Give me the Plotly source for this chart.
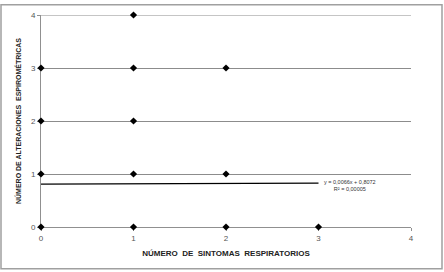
import plotly.graph_objects as go
import numpy as np

# data
sintomas = [0, 0, 0, 0, 1, 1, 1, 1, 1, 2, 2, 2, 3]
alteraciones = [0, 1, 2, 3, 0, 1, 2, 3, 4, 0, 1, 3, 0]
slope = 0.0066
intercept = 0.8072
r2_label = "R² = 0,00005"
eq_label = "y = 0,0066x + 0,8072"
x_ticks = [0, 1, 2, 3, 4]
y_ticks = [0, 1, 2, 3, 4]

W, H = 444, 272
ml, mr, mt, mb = 41, 33, 11, 45
pw, ph = W - ml - mr, H - mt - mb

fig = go.Figure()

tx = np.array([0, 3])
fig.add_trace(go.Scatter(x=tx, y=slope * tx + intercept, mode="lines",
                         line=dict(color="black", width=1.2), hoverinfo="skip",
                         cliponaxis=False))
fig.add_trace(go.Scatter(x=sintomas, y=alteraciones, mode="markers",
                         marker=dict(symbol="diamond", size=5.5, color="black"),
                         cliponaxis=False))

fig.add_annotation(x=3.0, y=slope * 3 + intercept, xref="x", yref="y",
                   text=eq_label + "<br>" + r2_label, showarrow=False,
                   xanchor="left", yanchor="middle", xshift=3, yshift=-2,
                   font=dict(size=5.5, color="#333333", family="Liberation Sans"),
                   align="center")

def px_to_paper_x(p):
    return (p - ml) / pw

def px_to_paper_y(p):
    return (H - mb - p) / ph

fig.add_shape(type="rect", xref="paper", yref="paper",
              x0=px_to_paper_x(1), x1=px_to_paper_x(442),
              y0=px_to_paper_y(269.5), y1=px_to_paper_y(0.5),
              line=dict(color="#a0a0a0", width=1.5), layer="below")

# top gridline at y=4 (plotly omits the gridline at the range edge)
fig.add_shape(type="line", xref="paper", yref="y", x0=0, x1=1,
              y0=y_ticks[-1], y1=y_ticks[-1],
              line=dict(color="#8c8c8c", width=1), layer="below")

fig.update_layout(
    width=W, height=H, margin=dict(l=ml, r=mr, t=mt, b=mb),
    paper_bgcolor="white", plot_bgcolor="white", showlegend=False,
    font=dict(family="Liberation Sans", color="#555555"),
    xaxis=dict(range=[0, 4], tickvals=x_ticks, showgrid=False, zeroline=False,
               showline=True, linecolor="#909090", linewidth=1,
               ticks="outside", ticklen=3, tickcolor="#909090",
               layer="below traces",
               tickfont=dict(size=8, color="#555555"),
               title=dict(text="<b>NÚMERO  DE  SINTOMAS  RESPIRATORIOS</b>",
                          font=dict(size=8, color="#222222"), standoff=8)),
    yaxis=dict(range=[0, 4], tickvals=y_ticks, showgrid=True, gridcolor="#8c8c8c",
               gridwidth=1, zeroline=False, showline=True, linecolor="#909090",
               ticks="outside", ticklen=3, tickcolor="#909090",
               layer="below traces",
               tickfont=dict(size=8, color="#555555"),
               title=dict(text="<b>NÚMERO DE ALTERACIONES  ESPIROMÉTRICAS</b>",
                          font=dict(size=7, color="#222222"), standoff=8)),
)

fig.write_html("out.html")
